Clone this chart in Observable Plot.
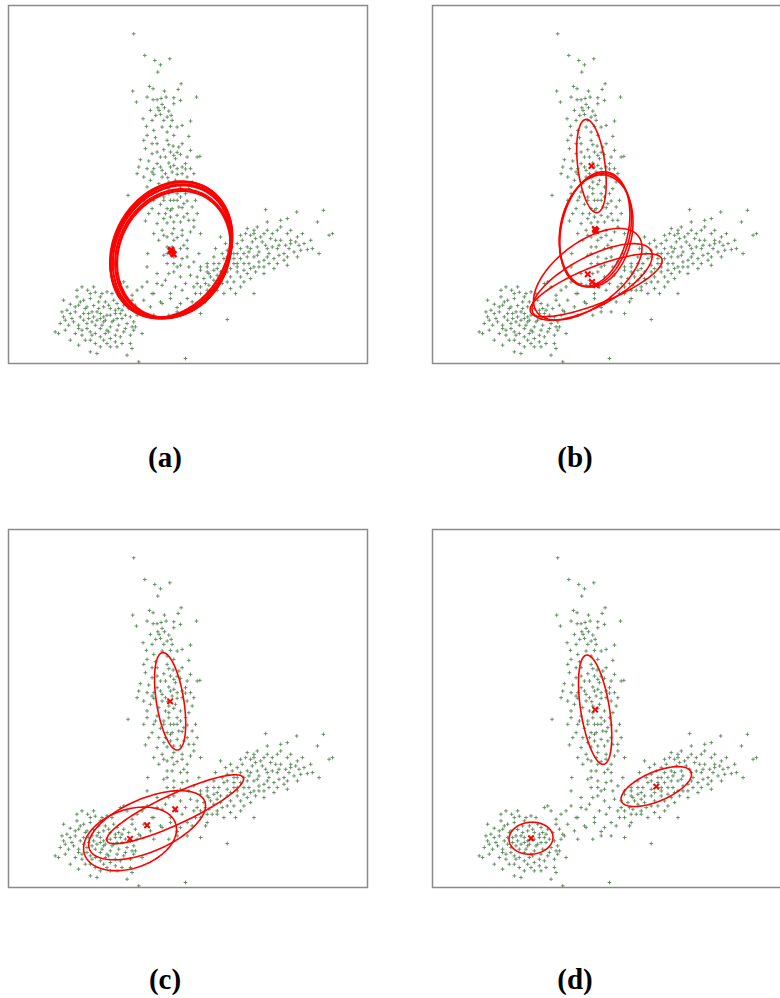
<!DOCTYPE html>
<html>
<head>
<meta charset="utf-8">
<script src="https://cdn.jsdelivr.net/npm/d3@7"></script>
<script src="https://cdn.jsdelivr.net/npm/@observablehq/plot@0.6"></script>
<style>
  html, body { margin: 0; padding: 0; background: #fff; overflow: hidden; }
  #page { position: relative; width: 780px; height: 998px; overflow: hidden; }
  .panel { position: absolute; width: 363px; height: 362px; }
  .panel svg { max-width: none !important; }
  .lab { position: absolute; font-family: "Times New Roman", "Liberation Serif", Tinos, serif; font-weight: bold; font-size: 29px; color: #000; transform: translateX(-50%); line-height: 1; }
</style>
</head>
<body>
<div id="page"></div>
<script>
// ---- Scatter points (same sample in every panel) ----
const tailPts = [[400,100],[433,165],[463,180],[508,175],[480,193],[472,215],[542,250],[533,267],[447,258],[458,265],[397,272],[492,272],[440,290],[470,298],[482,294],[497,290],[588,290],[408,305],[485,312],[472,322],[492,322],[520,310],[540,300],[505,332],[512,345],[480,342],[428,355],[455,360],[570,362],[545,375],[438,378],[485,380],[510,378],[500,395],[458,298],[520,292],[476,330],[466,345],[500,350],[530,380],[460,390],[450,330],[515,360],[490,360]];
const midPts = [[440,405],[465,412],[520,405],[565,408],[470,430],[505,433],[518,437],[545,430],[490,448],[510,455],[530,456],[455,460],[540,462],[420,478],[445,482],[590,470],[598,468],[505,488],[555,490],[520,495],[480,500],[440,505],[460,505],[530,505],[555,506],[570,505],[410,520],[460,522],[495,520],[502,532],[530,522],[545,520],[450,540],[475,550],[505,545],[520,552],[540,560],[430,420],[500,420],[480,470],[525,475],[570,450],[435,445],[560,530],[485,530],[470,490],[515,515],[430,530],[575,545],[495,560],[495,470],[510,500],[485,510],[525,540],[455,515],[545,500],[470,455],[520,465],[455,430],[535,440],[560,470],[415,500],[580,520],[440,560]];
const lowPts = [[383,585],[440,580],[555,580],[490,600],[520,600],[480,612],[535,620],[510,630],[545,622],[560,602],[585,600],[475,640],[490,655],[510,650],[530,645],[435,662],[500,668],[540,665],[565,660],[590,640],[485,690],[520,685],[545,690],[570,695],[500,710],[530,712],[560,720],[600,700],[460,600],[505,580],[470,575],[530,580],[455,625],[500,625],[560,640],[550,610],[520,665],[470,670],[490,705],[545,705],[515,700],[580,680],[460,700],[510,600],[575,620],[505,565],[540,590],[490,590],[530,600],[515,625],[550,650],[495,640],[520,720],[565,565],[465,590],[445,640],[580,660],[475,720],[550,735],[430,600]];
const bridgePts = [[515,740],[540,745],[490,765],[520,770],[442,760],[560,770],[595,760],[500,790],[540,795],[520,815],[565,800],[600,800],[620,790],[625,820],[540,830],[590,830],[470,850],[525,860],[545,870],[580,860],[615,850],[640,840],[560,895],[600,880],[540,910],[620,895],[650,870],[500,740],[560,745],[580,785],[545,775],[505,820],[555,850],[510,880],[575,905],[600,940],[680,958],[530,935],[485,910],[455,880],[600,860],[635,870],[520,790],[500,760],[530,800],[570,825],[585,880],[620,870],[560,935],[495,840],[615,905]];
const rightPts = [[795,628],[888,635],[968,630],[860,655],[840,660],[950,665],[985,705],[995,700],[740,685],[770,680],[800,690],[830,690],[860,700],[890,710],[720,705],[750,705],[780,710],[810,715],[840,720],[870,730],[660,710],[690,720],[710,730],[740,740],[770,740],[800,745],[830,745],[850,760],[880,755],[920,748],[955,760],[645,745],[680,750],[700,760],[730,760],[760,770],[790,780],[820,775],[850,780],[860,795],[640,770],[670,775],[700,790],[730,790],[760,800],[790,800],[620,800],[650,805],[680,815],[710,815],[740,820],[600,810],[630,830],[660,835],[700,845],[730,845],[760,880],[650,860],[670,880],[690,830],[720,775],[745,755],[775,755],[805,760],[835,735],[865,745],[895,735],[785,725],[815,700],[755,725],[725,720],[695,740],[665,760],[640,790],[610,835],[680,795],[710,800],[745,790],[775,785],[805,790],[835,765],[790,820],[750,835],[720,860],[690,865],[660,815],[620,815],[590,850],[840,680],[905,700],[870,690],[800,665],[760,700],[930,720],[815,740],[700,775],[730,810],[765,815],[655,790],[710,760],[740,770],[770,765],[800,770],[830,790],[680,770],[710,790],[750,805],[650,825],[680,845],[625,855],[860,770],[890,770],[900,750],[760,690],[790,700],[675,730],[735,700],[765,715],[795,735],[825,720],[855,735],[885,725],[910,730],[935,745],[720,745],[750,745],[690,805],[720,830],[775,800],[820,805],[665,850],[705,880],[640,810],[870,720]];
const leftPts = [[245,860],[262,870],[285,876],[230,890],[250,900],[270,895],[300,890],[190,900],[210,912],[235,915],[260,920],[280,916],[310,920],[330,925],[350,910],[200,930],[225,935],[250,940],[275,935],[300,940],[320,945],[345,940],[365,930],[385,925],[405,915],[420,935],[190,950],[215,955],[240,950],[265,955],[290,960],[315,960],[340,960],[365,955],[390,950],[180,970],[205,975],[235,975],[260,970],[285,975],[310,965],[330,980],[355,975],[380,970],[165,995],[195,990],[235,985],[270,995],[300,985],[325,995],[350,990],[375,985],[400,990],[425,1000],[245,1005],[270,1020],[300,1010],[330,1015],[360,1010],[390,1005],[235,1035],[270,1055],[300,1040],[320,1030],[350,1040],[380,1065],[390,1030],[415,1085],[555,1075],[360,850],[380,860],[315,905],[295,925],[340,900],[255,925],[280,950],[305,975],[330,945],[355,925],[375,945],[400,965],[285,1000],[315,1000],[345,1025],[260,985],[220,965],[175,1000],[410,945],[395,900],[280,860],[320,875],[270,880],[295,905],[325,915],[240,905],[265,940],[290,935],[310,950],[335,965],[360,940],[250,960],[275,965],[300,955],[320,990],[345,1005],[370,995],[225,1000],[255,1020],[285,1030],[310,1020],[210,940],[350,955],[395,980],[230,870],[305,880],[345,930],[370,915],[195,960],[245,990],[275,1005],[330,1040],[365,1030],[290,1060],[210,1020],[395,1045],[185,935],[225,920],[335,880],[405,980]];
const gapPts = [[440,845],[460,880],[485,855],[410,870],[430,900],[450,920],[480,905],[510,895],[530,922],[505,945],[460,945],[415,930],[370,845],[395,885],[470,820],[440,800],[425,860]];

// ---- Fitted Gaussian components: centre, semi-axes, tilt (degrees) ----
const ellipsesA = [
  {cx:513, cy:750, a:215, b:170, ang:60},
  {cx:515, cy:755, a:208, b:168, ang:62},
  {cx:510, cy:752, a:212, b:165, ang:58},
  {cx:518, cy:760, a:200, b:166, ang:63},
  {cx:512, cy:748, a:214, b:172, ang:61},
  {cx:520, cy:762, a:196, b:163, ang:64}
];
const ellipsesB = [
  {cx:501, cy:497, a:141, b:41, ang:97},
  {cx:513, cy:689, a:173, b:104, ang:78},
  {cx:515, cy:692, a:170, b:108, ang:80},
  {cx:511, cy:686, a:175, b:100, ang:77},
  {cx:490, cy:822, a:190, b:96, ang:37},
  {cx:515, cy:855, a:212, b:55, ang:22},
  {cx:503, cy:845, a:200, b:75, ang:28}
];
const ellipsesC = [
  {cx:509, cy:531, a:148, b:41, ang:99},
  {cx:524, cy:855, a:225, b:45, ang:25},
  {cx:440, cy:903, a:187, b:80, ang:23},
  {cx:389, cy:944, a:144, b:88, ang:19}
];
const ellipsesD = [
  {cx:512, cy:556, a:166, b:43, ang:99},
  {cx:695, cy:787, a:113, b:44, ang:23},
  {cx:320, cy:942, a:66, b:48, ang:5}
];
const panelLabels = ["(a)", "(b)", "(c)", "(d)"];

const points = [...tailPts, ...midPts, ...lowPts, ...bridgePts, ...rightPts, ...leftPts, ...gapPts].map(([x, y]) => ({x, y}));

function outline(list) {
  const out = [];
  list.forEach((e, id) => {
    const p = e.ang * Math.PI / 180;
    for (let i = 0; i <= 160; i++) {
      const t = i / 160 * 2 * Math.PI;
      out.push({id,
        x: e.cx + e.a * Math.cos(p) * Math.cos(t) - e.b * Math.sin(p) * Math.sin(t),
        y: e.cy - (e.a * Math.sin(p) * Math.cos(t) + e.b * Math.cos(p) * Math.sin(t))});
    }
  });
  return out;
}

function panel(list, sw) {
  return Plot.plot({
    width: 363, height: 362,
    marginLeft: 2, marginRight: 2, marginTop: 2, marginBottom: 2,
    style: {maxWidth: "none"},
    x: {domain: [25, 1100], axis: null},
    y: {domain: [15, 1090], reverse: true, axis: null},
    marks: [
      Plot.frame({stroke: "#8a8a8a", strokeWidth: 1.5}),
      Plot.dot(points, {x: "x", y: "y", symbol: "plus", r: 1.3, stroke: "#5a8a5a", strokeWidth: 0.9}),
      Plot.line(outline(list), {x: "x", y: "y", z: "id", stroke: "#ff0000", strokeWidth: sw, curve: "linear"}),
      Plot.dot(list, {x: "cx", y: "cy", symbol: "times", r: 2.6, stroke: "#ff0000", strokeWidth: 2})
    ]
  });
}

const page = document.getElementById("page");
const specs = [
  {list: ellipsesA, sw: 2.2, left: 6, top: 3, lx: 165, ly: 443},
  {list: ellipsesB, sw: 1.6, left: 430, top: 3, lx: 575, ly: 443},
  {list: ellipsesC, sw: 1.6, left: 6, top: 527, lx: 165, ly: 965},
  {list: ellipsesD, sw: 1.6, left: 430, top: 527, lx: 575, ly: 965}
];
specs.forEach((s, i) => {
  const div = document.createElement("div");
  div.className = "panel";
  div.style.left = s.left + "px";
  div.style.top = s.top + "px";
  div.appendChild(panel(s.list, s.sw));
  page.appendChild(div);
  const lab = document.createElement("div");
  lab.className = "lab";
  lab.style.left = s.lx + "px";
  lab.style.top = s.ly + "px";
  lab.textContent = panelLabels[i];
  page.appendChild(lab);
});
</script>
</body>
</html>
